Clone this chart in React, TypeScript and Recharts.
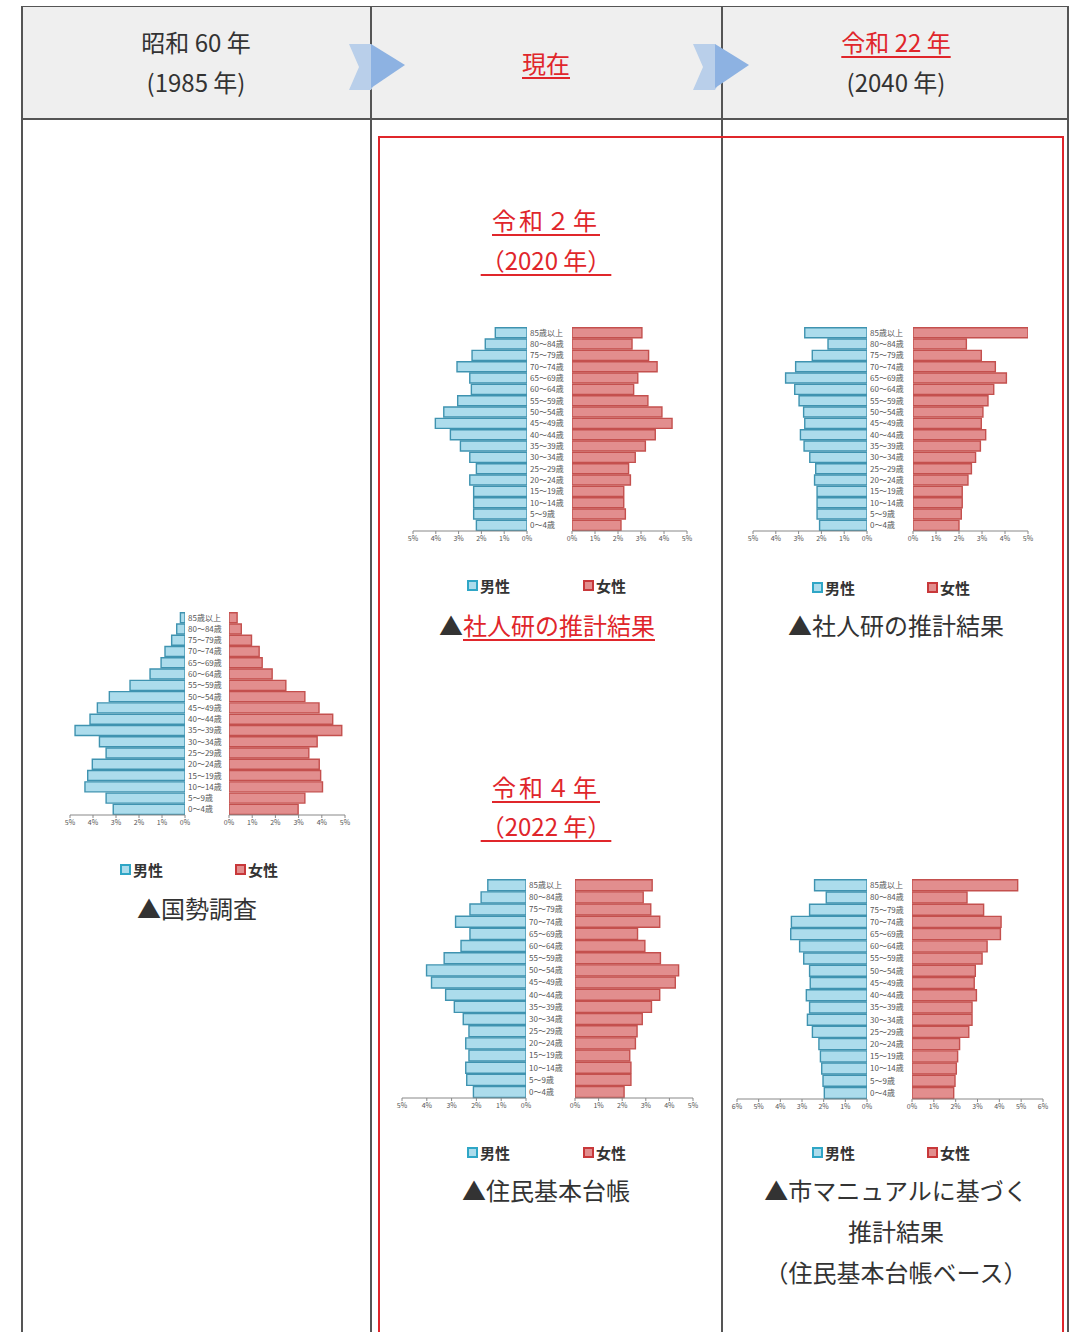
import React from "react";
import { BarChart, Bar, XAxis, YAxis } from "recharts";

// 年齢階級（上から順）
const AGES = [
  "85歳以上", "80～84歳", "75～79歳", "70～74歳", "65～69歳", "60～64歳",
  "55～59歳", "50～54歳", "45～49歳", "40～44歳", "35～39歳", "30～34歳",
  "25～29歳", "20～24歳", "15～19歳", "10～14歳", "5～9歳", "0～4歳",
];

// 昭和60年（国勢調査） %
const male1985 = [0.2, 0.36, 0.58, 0.87, 1.04, 1.52, 2.39, 3.29, 3.81, 4.13, 4.78, 3.72, 3.43, 4.03, 4.23, 4.35, 3.43, 3.12];
const female1985 = [0.35, 0.53, 0.97, 1.3, 1.43, 1.86, 2.45, 3.27, 3.88, 4.47, 4.86, 3.8, 3.44, 3.89, 3.95, 4.03, 3.27, 2.98];

// 令和2年（社人研）
const male2020 = [1.39, 1.83, 2.41, 3.07, 2.51, 2.44, 3.04, 3.65, 4.02, 3.36, 2.92, 2.51, 2.22, 2.51, 2.34, 2.34, 2.34, 2.22];
const female2020 = [3.04, 2.61, 3.33, 3.7, 2.86, 2.68, 3.3, 3.91, 4.35, 3.62, 3.19, 2.75, 2.46, 2.54, 2.25, 2.25, 2.32, 2.13];

// 令和22年（社人研）
const male2040 = [2.73, 1.71, 2.4, 3.13, 3.57, 3.17, 2.98, 2.78, 2.73, 2.92, 2.76, 2.51, 2.25, 2.3, 2.19, 2.19, 2.19, 2.08];
const female2040 = [5.0, 2.32, 2.97, 3.58, 4.06, 3.51, 3.26, 3.04, 2.97, 3.16, 2.93, 2.72, 2.54, 2.39, 2.14, 2.14, 2.1, 2.0];

// 令和4年（住民基本台帳）
const male2022 = [1.54, 1.81, 2.26, 2.84, 2.26, 2.62, 3.3, 4.01, 3.81, 3.24, 2.89, 2.53, 2.3, 2.43, 2.3, 2.43, 2.39, 2.12];
const female2022 = [3.27, 2.89, 3.21, 3.59, 2.65, 2.96, 3.62, 4.39, 4.25, 3.59, 3.24, 2.85, 2.63, 2.56, 2.32, 2.37, 2.37, 2.08];

// 令和22年（市マニュアル）
const male2040m = [2.42, 1.88, 2.65, 3.49, 3.52, 3.11, 2.92, 2.65, 2.62, 2.8, 2.65, 2.75, 2.52, 2.22, 2.15, 2.09, 2.03, 1.97];
const female2040m = [4.84, 2.52, 3.28, 4.08, 4.05, 3.44, 3.21, 2.9, 2.85, 2.95, 2.75, 2.75, 2.6, 2.18, 2.09, 2.03, 1.97, 1.91];

const MALE_FILL = "#acdcec";
const MALE_STROKE = "#3f93b0";
const FEMALE_FILL = "#e28e8e";
const FEMALE_STROKE = "#c4504e";
const RED = "#e0262b";
const INK = "#333";
const FONT = "'Noto Sans CJK JP', 'Noto Sans', sans-serif";

const AX_H = 18;
const PAD = 8;

type PyramidProps = {
  male: number[];
  female: number[];
  mL: number;
  mZ: number;
  fZ: number;
  fR: number;
  top: number;
  bottom: number;
  max: number;
};

function Pyramid({ male, female, mL, mZ, fZ, fR, top, bottom, max }: PyramidProps) {
  const h = bottom - top + AX_H;
  const gap = fZ - mZ;
  const ticks = Array.from({ length: max + 1 }, (_, i) => i);
  const maleData = AGES.map((age, i) => ({ age, v: male[i] }));
  const femaleData = AGES.map((age, i) => ({ age, v: female[i] }));
  const axisProps = {
    type: "number" as const,
    domain: [0, max],
    ticks,
    interval: 0 as const,
    allowDataOverflow: true,
    height: AX_H,
    tickSize: 3,
    tickMargin: 2,
    tickFormatter: (v: number) => `${v}%`,
    tick: { fontSize: 7, fill: "#555", fontFamily: FONT },
    axisLine: { stroke: "#888" },
    tickLine: { stroke: "#888" },
  };
  const AgeTick = ({ x, y, payload }: any) => (
    <text x={x - gap + 3} y={y} dy={3} fontSize={8} fill="#555" fontFamily={FONT} textAnchor="start">
      {payload.value}
    </text>
  );
  return (
    <>
      <div style={{ position: "absolute", left: mL - PAD, top }}>
        <BarChart
          width={mZ - mL + 2 * PAD}
          height={h}
          data={maleData}
          layout="vertical"
          barCategoryGap="6%"
          margin={{ top: 0, right: PAD, bottom: 0, left: PAD }}
        >
          <XAxis {...axisProps} reversed />
          <YAxis type="category" dataKey="age" hide />
          <Bar dataKey="v" fill={MALE_FILL} stroke={MALE_STROKE} strokeWidth={1.4} isAnimationActive={false} />
        </BarChart>
      </div>
      <div style={{ position: "absolute", left: mZ, top }}>
        <BarChart
          width={fR - mZ + PAD}
          height={h}
          data={femaleData}
          layout="vertical"
          barCategoryGap="6%"
          margin={{ top: 0, right: PAD, bottom: 0, left: 0 }}
        >
          <XAxis {...axisProps} />
          <YAxis
            type="category"
            dataKey="age"
            width={gap}
            axisLine={false}
            tickLine={false}
            tickSize={0}
            tickMargin={0}
            interval={0}
            tick={<AgeTick />}
          />
          <Bar dataKey="v" fill={FEMALE_FILL} stroke={FEMALE_STROKE} strokeWidth={1.4} isAnimationActive={false} />
        </BarChart>
      </div>
    </>
  );
}

function Label({
  x, y, text, size = 24, color = INK, underline = false, spacing = 0,
}: {
  x: number; y: number; text: React.ReactNode; size?: number; color?: string; underline?: boolean; spacing?: number;
}) {
  return (
    <div
      style={{
        position: "absolute",
        left: x,
        top: y,
        transform: "translate(-50%, -50%)",
        whiteSpace: "pre",
        fontSize: size,
        color,
        lineHeight: 1,
        letterSpacing: spacing,
        textDecoration: underline ? "underline" : "none",
        textDecorationThickness: underline ? 2 : undefined,
        textUnderlineOffset: underline ? 4 : undefined,
      }}
    >
      {text}
    </div>
  );
}

function Legend({ x1, x2, y }: { x1: number; x2: number; y: number }) {
  const item = (x: number, fill: string, stroke: string, text: string) => (
    <div style={{ position: "absolute", left: x, top: y - 9, display: "flex", alignItems: "center", fontSize: 15, fontWeight: 700, color: INK, whiteSpace: "nowrap" }}>
      <span style={{ display: "inline-block", width: 7, height: 7, background: fill, border: `2px solid ${stroke}`, marginRight: 2 }} />
      {text}
    </div>
  );
  return (
    <>
      {item(x1, MALE_FILL, "#2fa6c6", "男性")}
      {item(x2, FEMALE_FILL, "#c8383a", "女性")}
    </>
  );
}

function Arrow({ x }: { x: number }) {
  return (
    <svg style={{ position: "absolute", left: x, top: 40 }} width={60} height={54}>
      <polygon points="0,4 22,4 36,27 22,50 0,50 10,27" fill="#b9cfea" />
      <polygon points="22,4 56,25 22,48" fill="#8db2e2" />
    </svg>
  );
}

export default function App() {
  return (
    <div style={{ position: "absolute", left: 0, top: 0, width: 1071, height: 1332, background: "#fff", overflow: "hidden", fontFamily: FONT }}>
      {/* header */}
      <div style={{ position: "absolute", left: 22, top: 6, width: 1046, height: 113, background: "#efefef" }} />
      <div style={{ position: "absolute", left: 22, top: 6, width: 1046, height: 1, background: "#555" }} />
      <div style={{ position: "absolute", left: 22, top: 118, width: 1046, height: 2, background: "#555" }} />
      {[22, 371, 722, 1068].map((x) => (
        <div key={x} style={{ position: "absolute", left: x - 1, top: 6, width: 1.5, height: 1326, background: "#555" }} />
      ))}
      <div style={{ position: "absolute", left: 378, top: 136, width: 682, height: 1200, border: `2px solid ${RED}` }} />

      <Arrow x={349} />
      <Arrow x={693} />

      <Label x={196} y={42} text="昭和 60 年" />
      <Label x={196} y={82} text="(1985 年)" />
      <Label x={546} y={63} text="現在" color={RED} underline />
      <Label x={896} y={42} text="令和 22 年" color={RED} underline />
      <Label x={896} y={82} text="(2040 年)" />

      <Label x={546} y={220} text="令和２年" color={RED} underline spacing={3} />
      <Label x={546} y={260} text="（2020 年）" color={RED} underline />
      <Label x={546} y={787} text="令和４年" color={RED} underline spacing={3} />
      <Label x={546} y={826} text="（2022 年）" color={RED} underline />

      <Pyramid male={male1985} female={female1985} mL={70} mZ={185} fZ={229} fR={345} top={612} bottom={815} max={5} />
      <Pyramid male={male2020} female={female2020} mL={413} mZ={527} fZ={572} fR={687} top={327} bottom={531} max={5} />
      <Pyramid male={male2040} female={female2040} mL={753} mZ={867} fZ={913} fR={1028} top={327} bottom={531} max={5} />
      <Pyramid male={male2022} female={female2022} mL={402} mZ={526} fZ={575} fR={693} top={879} bottom={1098} max={5} />
      <Pyramid male={male2040m} female={female2040m} mL={737} mZ={867} fZ={912} fR={1043} top={879} bottom={1099} max={6} />

      <Legend x1={120} x2={235} y={868} />
      <Legend x1={467} x2={583} y={584} />
      <Legend x1={812} x2={927} y={586} />
      <Legend x1={467} x2={583} y={1151} />
      <Legend x1={812} x2={927} y={1151} />

      <Label x={197} y={908} text="▲国勢調査" />
      <Label
        x={547}
        y={625}
        text={
          <>
            ▲<span style={{ color: RED, textDecoration: "underline", textDecorationThickness: 2, textUnderlineOffset: 4 }}>社人研の推計結果</span>
          </>
        }
      />
      <Label x={896} y={625} text="▲社人研の推計結果" />
      <Label x={546} y={1190} text="▲住民基本台帳" />
      <Label x={896} y={1190} text="▲市マニュアルに基づく" />
      <Label x={896} y={1231} text="推計結果" />
      <Label x={896} y={1272} text="（住民基本台帳ベース）" />
    </div>
  );
}
